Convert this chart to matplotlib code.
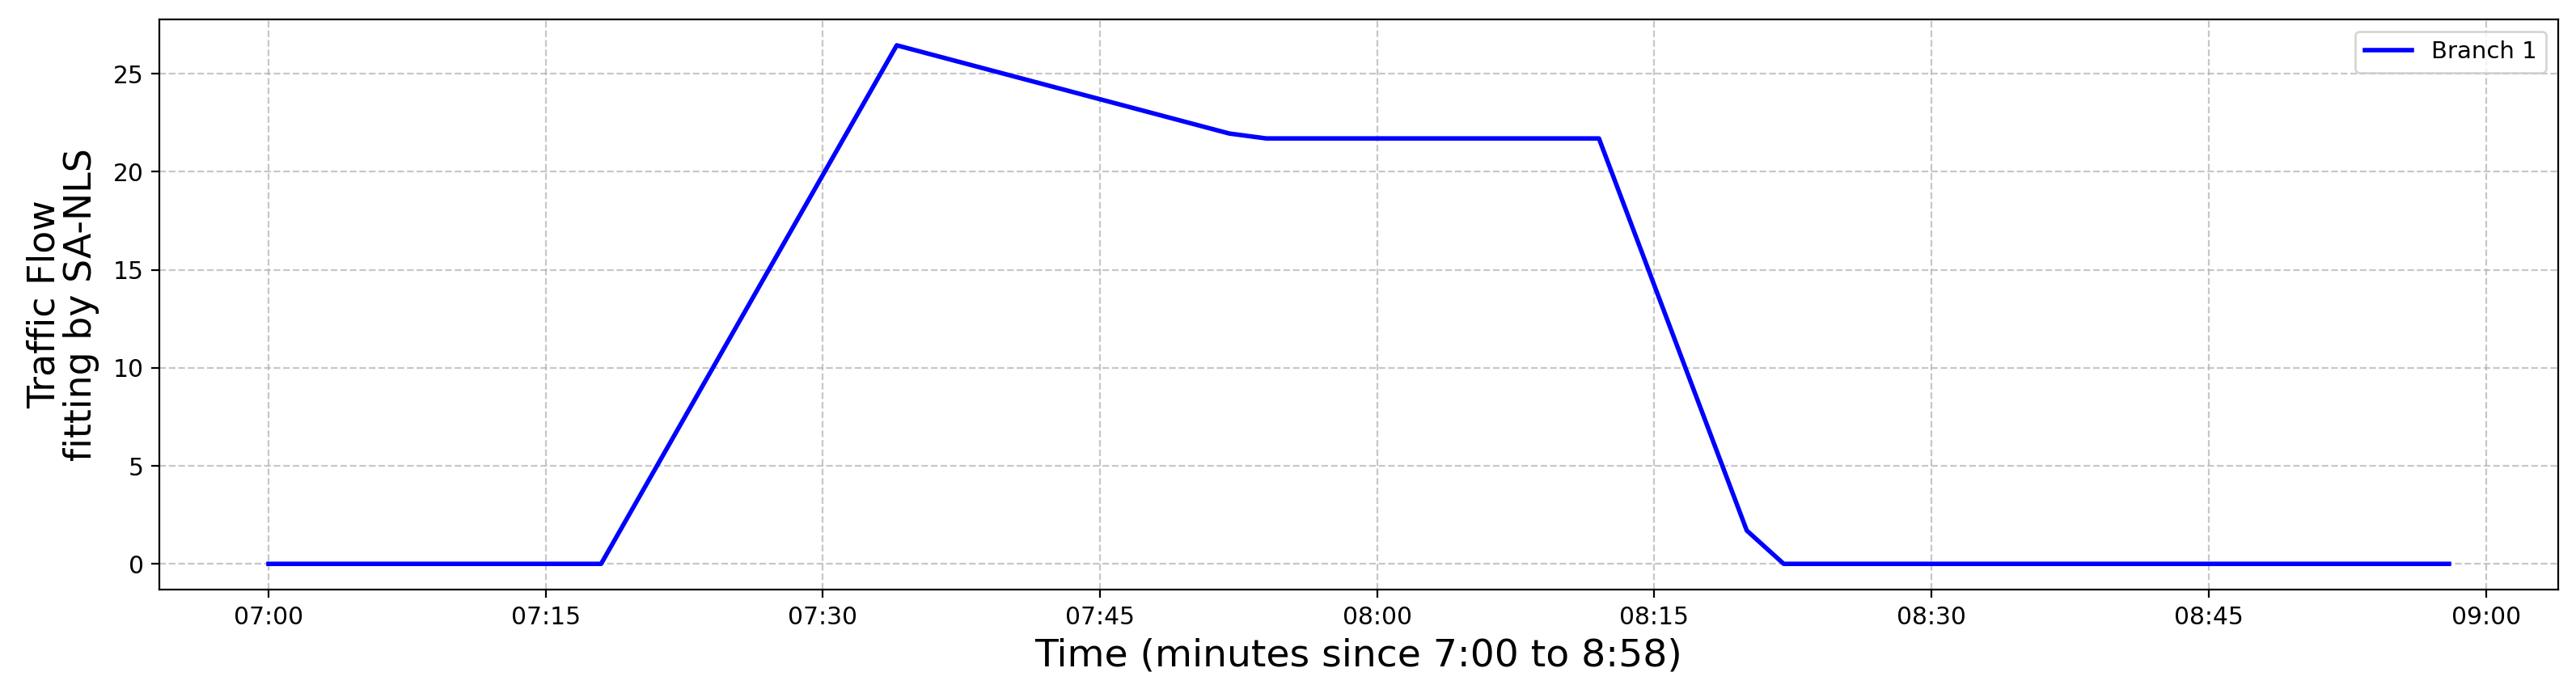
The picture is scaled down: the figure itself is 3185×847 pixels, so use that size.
import pandas as pd
import numpy as np
import matplotlib
matplotlib.use('Agg')
import matplotlib.pyplot as plt
import matplotlib.dates as mdates

# fitted flow (SA-NLS), breakpoints of the piecewise curve
times = ['07:00', '07:18', '07:34', '07:52', '07:54', '08:12', '08:20', '08:22', '08:58']
flow = [0.0, 0.0, 26.45, 21.95, 21.7, 21.7, 1.7, 0.0, 0.0]
series_label = 'Branch 1'

def main():
    t = pd.to_datetime(['2020-01-01 ' + s for s in times])

    fig = plt.figure(figsize=(15.925, 4.235), dpi=200)
    ax = fig.add_axes([0.0619, 0.139, 0.9311, 0.8327])

    ax.plot(t, flow, color='blue', linewidth=2, label=series_label)

    ax.xaxis.set_major_locator(mdates.MinuteLocator(byminute=[0, 15, 30, 45]))
    ax.xaxis.set_major_formatter(mdates.DateFormatter('%H:%M'))
    ax.tick_params(labelsize=10.7)

    ax.grid(True, linestyle='--', color='#b0b0b0', alpha=0.7, linewidth=0.8)

    ax.set_xlabel('Time (minutes since 7:00 to 8:58)', fontsize=17)
    ax.set_ylabel('Traffic Flow\nfitting by SA-NLS', fontsize=16.5, labelpad=6,
                  linespacing=1.0)
    ax.legend(loc='upper right', fontsize=10.5)

    fig.savefig('out.png', dpi=200)

if __name__ == '__main__':
    main()
